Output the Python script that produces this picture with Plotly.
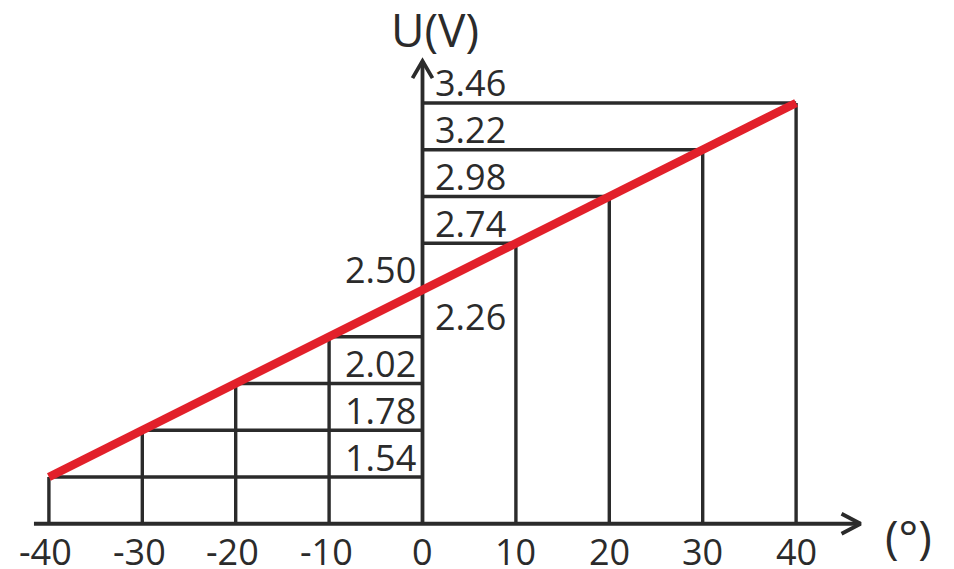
import plotly.graph_objects as go

# ---- data ----
angles = [-40, -30, -20, -10, 0, 10, 20, 30, 40]          # degrees
voltages = [1.54, 1.78, 2.02, 2.26, 2.50, 2.74, 2.98, 3.22, 3.46]  # U (V)
value_labels = ["1.54", "1.78", "2.02", "2.26", "2.50", "2.74", "2.98", "3.22", "3.46"]
label_side = ["left", "left", "left", "right", "left", "right", "right", "right", "right"]
x_tick_labels = ["-40", "-30", "-20", "-10", "0", "10", "20", "30", "40"]

# ---- geometry (layout constants) ----
OFF = 8                      # page body margin
W, H = 954 - OFF, 569 - OFF  # figure size so it fits the window
PX_PER_X = 9.34
PX_PER_Y = 194.8
X0_PX = 422.5 - OFF          # pixel of x = 0 inside figure
Y154_PX = 477 - OFF          # pixel of U = 1.54 inside figure
X_RANGE = [-X0_PX / PX_PER_X, (W - X0_PX) / PX_PER_X]
Y_RANGE = [1.54 - (H - Y154_PX) / PX_PER_Y, 1.54 + Y154_PX / PX_PER_Y]
AXIS_U = 1.30        # where horizontal axis sits
X_AXIS_START = -41.6
X_AXIS_TIP = 46.9
Y_AXIS_TIP = 3.675

INK = "#2b2b2b"
RED = "#e2202a"
FONT = "Open Sans"

fig = go.Figure()

# guide lines: horizontal from axis to the point, vertical from x-axis to the point
gx, gy = [], []
for a, u in zip(angles, voltages):
    gx += [0, a, None]
    gy += [u, u, None]
    if a != 0:
        gx += [a, a, None]
        gy += [AXIS_U, u, None]
fig.add_trace(go.Scatter(x=gx, y=gy, mode="lines",
                         line=dict(color=INK, width=3.4), hoverinfo="skip",
                         showlegend=False))

# axes
ax_x = [X_AXIS_START, X_AXIS_TIP, None, 0, 0]
ax_y = [AXIS_U, AXIS_U, None, AXIS_U, Y_AXIS_TIP]
# arrow chevrons (pixel sizes converted to data units)
bx = 19 / PX_PER_X
hy = 10 / PX_PER_Y
ax_x += [None, X_AXIS_TIP - bx, X_AXIS_TIP, X_AXIS_TIP - bx]
ax_y += [None, AXIS_U + hy, AXIS_U, AXIS_U - hy]
by = 17 / PX_PER_Y
hx = 10 / PX_PER_X
ax_x += [None, -hx, 0, hx]
ax_y += [None, Y_AXIS_TIP - by, Y_AXIS_TIP, Y_AXIS_TIP - by]
fig.add_trace(go.Scatter(x=ax_x, y=ax_y, mode="lines",
                         line=dict(color=INK, width=3.8), hoverinfo="skip",
                         showlegend=False))

# red characteristic line
fig.add_trace(go.Scatter(x=angles, y=voltages, mode="lines",
                         line=dict(color=RED, width=8.5), hoverinfo="skip",
                         showlegend=False))

annotations = []
# value labels
for u, lab, side in zip(voltages, value_labels, label_side):
    annotations.append(dict(
        x=0, y=u, xref="x", yref="y", text=lab, showarrow=False,
        xanchor="left" if side == "right" else "right", yanchor="middle",
        xshift=10 if side == "right" else -5, yshift=20,
        font=dict(family=FONT, size=36, color=INK)))
# x tick labels
for a, lab in zip(angles, x_tick_labels):
    annotations.append(dict(
        x=a, y=AXIS_U, xref="x", yref="y", text=lab, showarrow=False,
        xanchor="center", yanchor="middle", yshift=-28,
        xshift=-3 if lab.startswith("-") else 0,
        font=dict(family=FONT, size=36, color=INK)))
# axis titles
annotations.append(dict(x=0, y=Y_AXIS_TIP, xref="x", yref="y", text="U(V)",
                        showarrow=False, xanchor="center", yanchor="middle",
                        xshift=12, yshift=32,
                        font=dict(family=FONT, size=46, color=INK)))
annotations.append(dict(x=X_AXIS_TIP, y=AXIS_U, xref="x", yref="y", text="(°)",
                        showarrow=False, xanchor="left", yanchor="middle",
                        xshift=22, yshift=-12,
                        font=dict(family=FONT, size=46, color=INK)))

fig.update_layout(
    width=W, height=H,
    margin=dict(l=0, r=0, t=0, b=0),
    paper_bgcolor="white", plot_bgcolor="white",
    xaxis=dict(range=X_RANGE, visible=False, fixedrange=True),
    yaxis=dict(range=Y_RANGE, visible=False, fixedrange=True),
    annotations=annotations,
    showlegend=False,
)

fig.write_html("out.html", config={"displayModeBar": False})
